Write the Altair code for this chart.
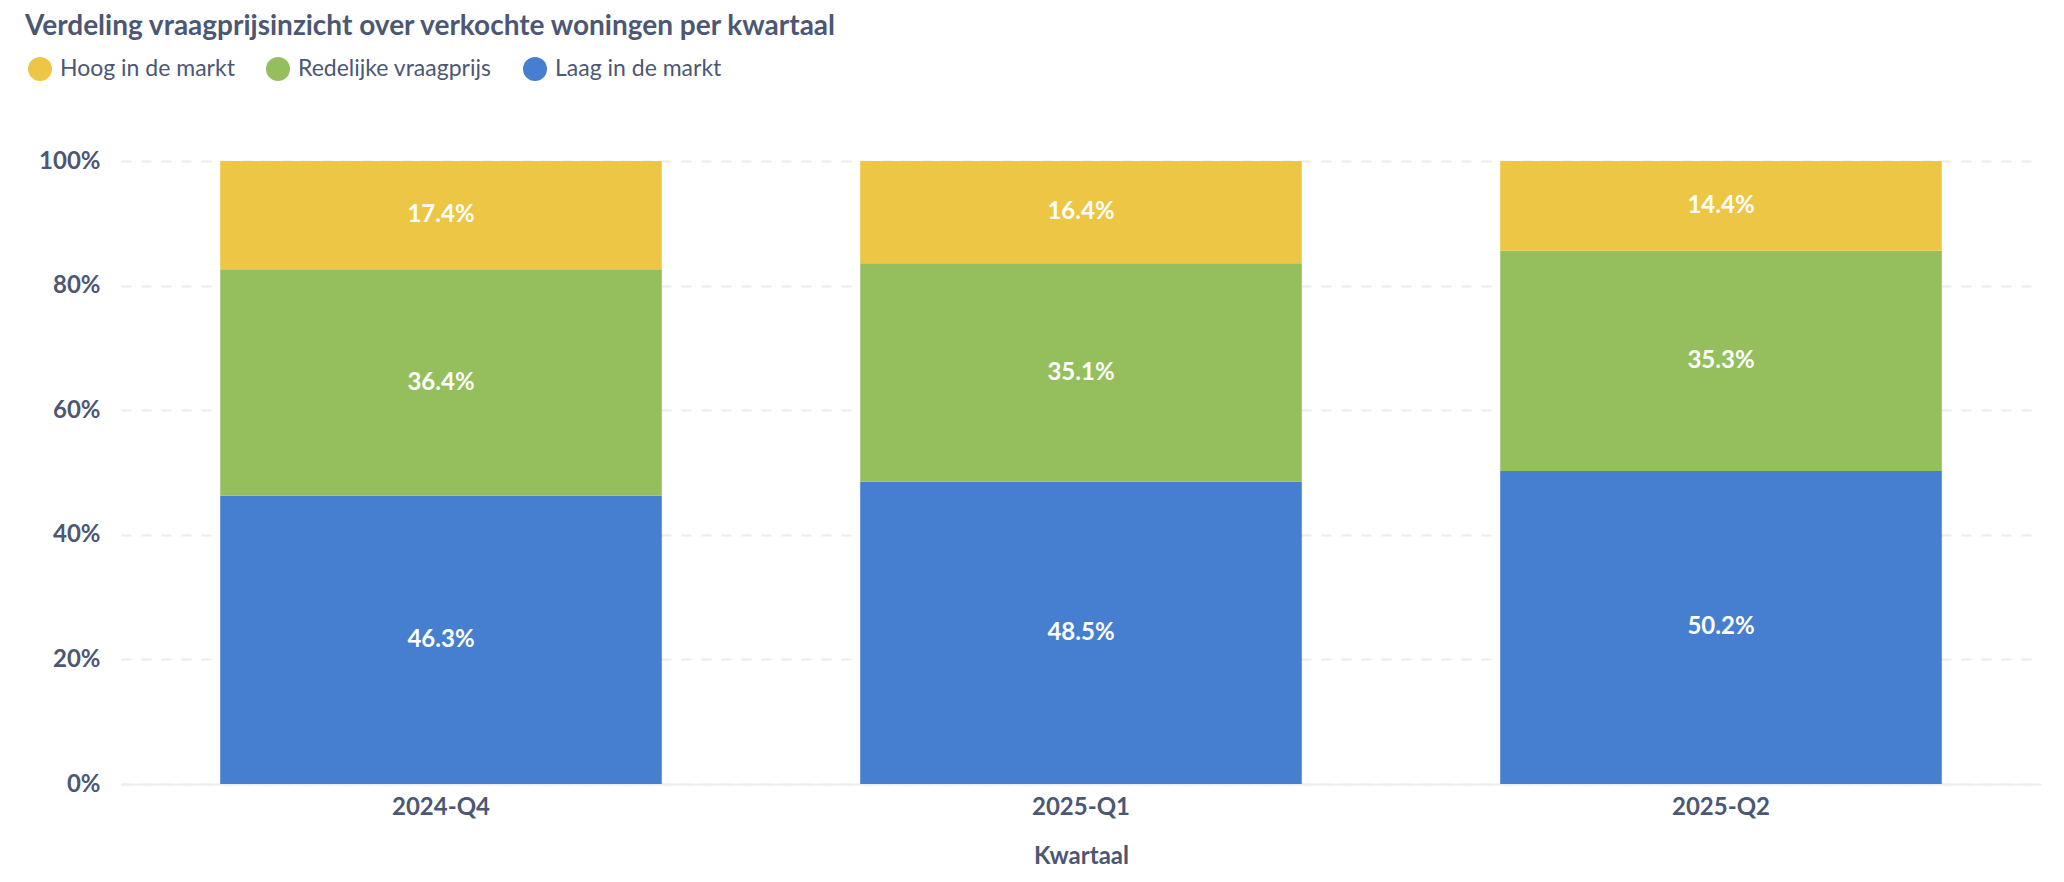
import altair as alt
import pandas as pd

kwartalen = ["2024-Q4", "2025-Q1", "2025-Q2"]
categorieen = ["Hoog in de markt", "Redelijke vraagprijs", "Laag in de markt"]
hoog = [17.4, 16.4, 14.4]
redelijk = [36.4, 35.1, 35.3]
laag = [46.3, 48.5, 50.2]
kleuren = ["#EEC645", "#94BF5C", "#467FCF"]
y_ticks = [0, 0.2, 0.4, 0.6, 0.8, 1.0]

rows = []
for i, k in enumerate(kwartalen):
    for cat, vals, order in [(categorieen[2], laag, 0),
                             (categorieen[1], redelijk, 1),
                             (categorieen[0], hoog, 2)]:
        rows.append({"kwartaal": k, "categorie": cat, "waarde": vals[i], "volgorde": order})
df = pd.DataFrame(rows)

TEXT = "#4C5773"
FONT = "Lato"

base = alt.Chart(df).transform_stack(
    stack="waarde",
    groupby=["kwartaal"],
    sort=[alt.SortField(field="volgorde", order="ascending")],
    as_=["y0", "y1"],
    offset="normalize",
).transform_calculate(
    mid="(datum.y0 + datum.y1) / 2",
    label="format(datum.waarde, '.1f') + '%'",
)

x_enc = alt.X(
    "kwartaal:N",
    title="Kwartaal",
    sort=kwartalen,
    scale=alt.Scale(paddingInner=0.31, paddingOuter=0.155),
    axis=alt.Axis(
        labelAngle=0,
        labelFont=FONT,
        labelFontSize=24,
        labelFontWeight="bold",
        labelColor=TEXT,
        labelPadding=11,
        ticks=False,
        tickSize=0,
        grid=False,
        domain=True,
        domainColor="#EEEEEE",
        domainWidth=2,
        titleFont=FONT,
        titleFontSize=24,
        titleFontWeight="bold",
        titleColor=TEXT,
        titlePadding=25,
    ),
)

y_scale = alt.Scale(domain=[0, 1], nice=False)

bars = base.mark_bar().encode(
    x=x_enc,
    y=alt.Y(
        "y0:Q",
        scale=y_scale,
        title=None,
        axis=alt.Axis(
            values=y_ticks,
            format=".0%",
            domain=False,
            ticks=False,
            tickSize=0,
            labelPadding=21,
            labelFont=FONT,
            labelFontSize=24,
            labelFontWeight="bold",
            labelColor=TEXT,
            gridColor="#ECECEC",
            gridDash=[10, 10],
            gridWidth=2,
        ),
    ),
    y2="y1:Q",
    color=alt.Color(
        "categorie:N",
        scale=alt.Scale(domain=categorieen, range=kleuren),
        legend=alt.Legend(
            title=None,
            orient="none",
            legendX=-93,
            legendY=-104,
            direction="horizontal",
            symbolType="circle",
            symbolSize=576,
            symbolStrokeWidth=0,
            symbolOpacity=1,
            labelFont=FONT,
            labelFontSize=23,
            labelColor=TEXT,
            labelOffset=8,
            labelLimit=500,
            columnPadding=31,
            padding=0,
        ),
    ),
)

text = base.mark_text(
    font=FONT, fontSize=24, fontWeight="bold", color="white", baseline="middle"
).encode(
    x=alt.X("kwartaal:N", sort=kwartalen),
    y=alt.Y("mid:Q", scale=y_scale),
    text="label:N",
)

chart = alt.layer(bars, text).properties(
    width=1920,
    height=623,
    padding={"left": 113, "top": 153, "right": 15, "bottom": 95},
    autosize=alt.AutoSizeParams(type="none"),
    title=alt.TitleParams(
        text="Verdeling vraagprijsinzicht over verkochte woningen per kwartaal",
        anchor="start",
        frame="group",
        font=FONT,
        fontSize=28,
        fontWeight="bold",
        color=TEXT,
        baseline="alphabetic",
        dx=-96,
        offset=-6,
    ),
).configure_view(stroke=None)

chart.save("out.html", embed_options={"renderer": "svg", "actions": False})
